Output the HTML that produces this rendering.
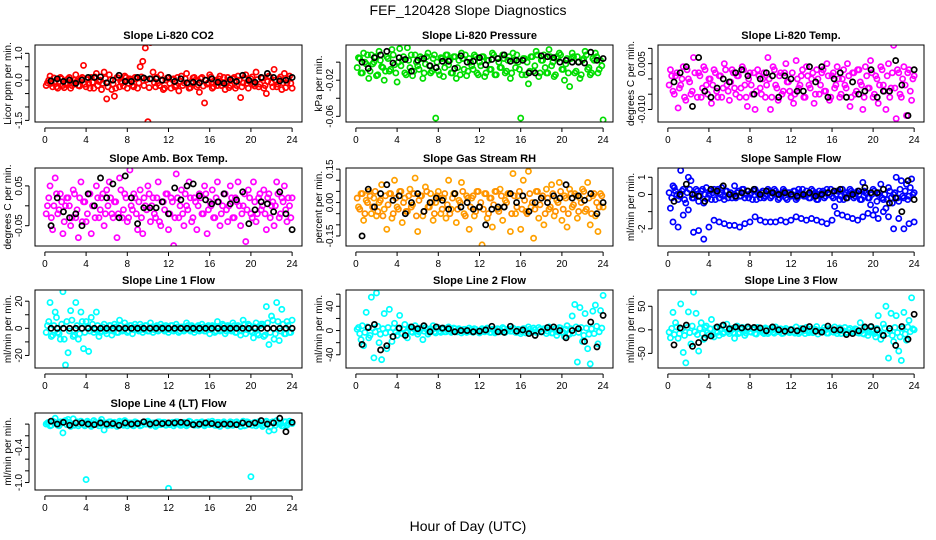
<!DOCTYPE html>
<html><head><meta charset="utf-8"><style>
html,body{margin:0;padding:0;background:#fff}
svg{display:block;font-family:"Liberation Sans",Arial,sans-serif}
</style></head><body>
<svg id="chart" width="936" height="540" viewBox="0 0 936 540" xmlns="http://www.w3.org/2000/svg">
<rect x="0" y="0" width="936" height="540" fill="#fff"/>
<text x="468" y="15" text-anchor="middle" font-size="14">FEF_120428  Slope Diagnostics</text>
<text x="468" y="531" text-anchor="middle" font-size="14">Hour of Day (UTC)</text>
</svg>
<script>
// shared x ticks
const xTicks = [0,4,8,12,16,20,24];
// colored points: every 0.25 h; core points offset by 0.125 h; black points: every 0.6 h
const co2Vals = [-0.1,0.15,-0.25,-0.05,-0.3,0.1,-0.2,-0.15,0.05,-0.3,-0.1,0.2,
-0.2,0.05,0.55,-0.25,-0.1,0.1,-0.3,0.25,-0.05,-0.35,0.3,-0.7,
0.2,-0.35,-0.6,0.1,-0.25,-0.1,0.15,-0.3,0.05,-0.2,0.1,-0.3,
0.5,0.7,1.2,-1.55,1.4,0.3,-0.25,-0.1,0.2,-0.35,0.0,0.1,
-0.3,0.05,-0.2,-0.4,0.15,-0.1,0.25,-0.3,-0.05,0.1,-0.25,-0.45,
0.1,-0.85,-0.15,0.2,-0.3,0.0,-0.2,0.15,-0.1,-0.35,0.1,-0.2,
0.05,-0.3,0.15,-0.65,-0.1,0.2,-0.3,0.05,-0.15,0.3,-0.25,0.1,
-0.3,-0.5,0.15,-0.1,0.4,-0.25,0.05,-0.35,0.25,-0.1,0.15,-0.3];
const co2Core = [-0.2,0.0,-0.12,0.08,-0.25,-0.05,0.05,-0.28,-0.1,0.1,-0.2,0.0,
-0.05,-0.22,0.1,-0.15,0.02,-0.3,-0.08,0.12,-0.2,0.0,-0.12,0.06,
-0.25,0.02,-0.15,-0.3,0.08,-0.05,-0.22,0.1,-0.12,0.0,-0.25,0.05,
-0.1,0.12,-0.2,0.02,-0.28,0.05,-0.1,0.1,-0.2,-0.02,-0.3,0.08,
-0.12,0.02,-0.25,0.1,-0.05,-0.2,0.05,-0.15,-0.28,0.08,0.0,-0.18,
0.06,-0.22,0.0,-0.1,0.12,-0.25,-0.05,0.05,-0.2,0.1,-0.12,-0.28,
-0.02,0.1,-0.2,0.0,-0.25,0.08,-0.12,-0.05,0.12,-0.22,0.02,-0.15,
0.08,-0.2,-0.05,0.1,-0.25,0.0,-0.15,0.12,-0.1,-0.28,0.05,-0.12];
const co2Black = [-0.03,0.05,-0.05,0.0,-0.12,0.0,0.1,0.1,0.12,-0.1,0.0,0.18,-0.05,-0.05,0.1,0.08,0.05,0.05,0.0,0.1,-0.05,0.05,-0.1,-0.08,-0.1,0.0,0.05,-0.08,-0.12,0.02,-0.05,0.18,0.0,-0.08,0.1,0.25,0.1,-0.03,0.0,0.1];
const presVals = [0.005,-0.012,0.01,-0.002,-0.018,0.008,0.0,-0.015,0.012,-0.005,-0.02,0.006,
-0.01,0.014,-0.003,-0.022,0.015,0.002,-0.012,0.016,-0.006,-0.015,0.008,-0.004,
0.006,-0.018,-0.002,0.01,-0.012,0.004,-0.062,-0.01,0.005,-0.016,0.008,-0.003,
-0.012,0.006,-0.018,0.002,0.01,-0.008,-0.015,0.004,-0.004,0.008,-0.012,0.0,
0.006,-0.016,0.002,-0.008,0.01,-0.014,0.004,-0.006,0.008,-0.012,0.002,-0.018,
0.01,-0.006,0.0,-0.062,0.004,-0.014,-0.024,0.006,-0.01,0.012,-0.016,0.002,
0.008,-0.012,0.014,-0.004,-0.016,0.006,0.01,-0.008,-0.02,0.004,-0.027,0.01,
-0.012,0.006,-0.018,0.002,0.012,-0.008,-0.014,0.004,0.01,-0.012,0.002,-0.064];
const presCore = [-0.006,0.004,-0.012,0.0,0.008,-0.01,-0.002,0.006,-0.014,0.002,-0.006,-0.01,
0.004,-0.008,0.008,-0.012,0.0,-0.004,0.006,-0.014,0.002,0.008,-0.01,0.0,
-0.008,0.004,-0.012,0.006,-0.004,-0.01,0.008,0.0,-0.014,0.004,-0.006,0.008,
0.002,-0.012,0.006,-0.006,-0.014,0.004,0.008,-0.01,0.0,-0.008,0.006,-0.014,
-0.004,0.006,-0.012,0.002,-0.008,0.008,-0.014,0.0,-0.006,0.004,-0.01,0.006,
-0.012,0.002,0.008,-0.008,-0.014,0.004,0.0,-0.01,0.006,-0.004,0.008,-0.012,
0.002,-0.006,-0.012,0.006,0.0,-0.014,0.004,0.008,-0.008,-0.002,-0.012,0.004,
0.006,-0.01,0.0,-0.014,0.004,0.008,-0.006,-0.012,0.002,0.006,-0.008,-0.004];
const presBlack = [0.0,-0.007,0.005,0.008,0.012,-0.001,0.005,0.003,-0.01,0.002,0.004,-0.004,-0.006,0.001,0.001,-0.007,0.007,0.0,0.001,0.005,-0.003,0.003,0.004,0.008,0.001,0.002,0.002,-0.012,-0.012,0.007,0.006,0.005,0.0,0.002,0.0,0.0,-0.001,0.011,0.002,0.004];
const tempVals = [0.003,-0.004,0.001,-0.0095,-0.002,0.004,-0.007,0.0,-0.005,0.007,-0.0155,0.002,
-0.006,0.004,-0.002,0.0,-0.008,0.003,-0.004,0.001,-0.006,0.005,-0.002,-0.007,
0.003,-0.003,0.001,-0.006,0.004,-0.002,-0.009,0.002,-0.005,-0.01,0.003,-0.003,
0.0,-0.006,0.007,-0.01,0.004,-0.002,-0.007,0.002,-0.004,0.005,-0.001,-0.006,
-0.008,0.006,-0.003,0.001,-0.006,0.004,-0.002,0.0,-0.008,0.003,-0.005,0.002,
-0.004,0.005,-0.007,0.001,-0.003,0.004,-0.006,0.0,-0.002,0.005,-0.009,0.002,
-0.005,0.003,-0.001,-0.01,0.004,-0.003,0.006,-0.006,0.001,-0.008,0.004,-0.002,
-0.01,0.005,-0.003,0.011,-0.013,0.002,-0.006,0.004,-0.012,0.003,-0.007,0.001];
const tempCore = [-0.002,0.001,-0.005,0.002,-0.003,0.0,-0.006,0.003,-0.001,-0.004,0.002,-0.006,
0.001,-0.003,0.003,-0.005,0.0,-0.002,0.002,-0.006,0.001,-0.003,0.003,-0.004,
-0.001,0.002,-0.005,0.001,-0.003,0.003,-0.006,0.0,-0.002,0.002,-0.004,0.001,
-0.005,0.002,-0.002,0.0,-0.006,0.003,-0.003,0.001,-0.005,0.002,-0.001,-0.004,
0.002,-0.005,0.0,-0.002,0.003,-0.006,0.001,-0.003,0.002,-0.005,0.0,-0.002,
0.003,-0.004,0.001,-0.006,0.002,-0.002,0.0,-0.005,0.003,-0.003,0.001,-0.006,
0.002,-0.004,0.003,-0.002,-0.006,0.001,-0.003,0.002,-0.005,0.0,-0.002,0.003,
-0.004,0.001,-0.006,0.002,-0.003,0.003,-0.005,0.0,-0.002,0.002,-0.004,0.0];
const tempBlack = [-0.001,0.002,0.004,-0.009,0.007,-0.004,-0.006,-0.003,0.0,-0.001,0.002,0.003,0.001,-0.005,0.0,0.002,0.001,-0.006,0.001,0.0,-0.004,-0.004,0.004,-0.001,0.004,-0.006,0.0,0.002,-0.006,-0.001,-0.005,-0.004,0.003,-0.006,-0.004,-0.004,0.006,-0.002,-0.012,0.003];
const ambVals = [0.0,0.05,-0.06,0.07,-0.02,0.03,-0.07,0.0,0.02,-0.05,0.04,-0.03,
-0.08,0.06,0.01,-0.04,0.03,-0.07,0.0,0.05,-0.03,0.02,-0.05,0.04,
0.06,-0.02,0.01,-0.08,0.07,-0.03,0.03,-0.04,0.09,-0.01,0.02,-0.06,
0.04,-0.07,0.0,0.05,-0.04,0.02,-0.03,0.06,-0.05,0.01,0.03,-0.06,
0.02,-0.1,0.08,-0.03,0.04,-0.05,0.0,0.06,-0.04,0.02,-0.06,0.03,
-0.02,0.05,-0.07,0.01,0.04,-0.03,0.06,-0.05,0.0,0.03,-0.04,0.05,
-0.03,0.02,0.06,-0.05,0.0,-0.09,0.04,-0.02,0.06,-0.04,0.02,-0.01,
0.04,-0.06,0.03,0.0,-0.05,0.06,-0.03,0.02,0.05,-0.04,0.0,0.02];
const ambCore = [-0.02,0.02,-0.03,0.0,0.03,-0.01,0.01,-0.04,0.02,0.0,-0.03,0.03,
-0.01,0.02,-0.04,0.01,-0.02,0.03,0.0,-0.03,0.02,-0.01,0.03,-0.02,
0.0,0.02,-0.03,0.01,-0.02,0.04,-0.01,0.02,-0.03,0.0,0.03,-0.02,
0.01,-0.03,0.02,-0.01,0.03,0.0,-0.02,0.02,-0.04,0.01,-0.01,0.03,
-0.02,0.01,-0.03,0.02,0.0,-0.02,0.03,-0.01,0.02,-0.03,0.01,0.0,
0.02,-0.02,0.03,-0.01,0.0,-0.03,0.02,0.01,-0.02,0.03,-0.01,0.0,
0.02,-0.03,0.01,0.0,-0.02,0.03,-0.01,0.02,-0.03,0.01,-0.02,0.03,
0.0,-0.02,0.02,-0.03,0.01,0.0,0.03,-0.02,0.01,-0.01,0.02,-0.03];
const ambBlack = [-0.05,0.02,-0.015,-0.03,-0.02,-0.05,0.03,0.0,0.07,0.02,0.055,-0.03,0.075,0.02,-0.045,-0.005,-0.005,-0.005,0.01,-0.02,0.045,0.015,0.05,0.055,0.025,0.015,0.005,0.01,0.03,0.005,0.015,0.035,-0.045,-0.01,0.01,0.005,-0.015,0.035,-0.02,-0.06];
const rhVals = [-0.02,0.04,-0.08,0.01,0.05,-0.05,0.02,-0.06,0.0,0.08,-0.03,-0.12,
0.04,-0.07,0.1,-0.02,0.05,-0.09,0.02,-0.04,0.06,-0.01,0.11,-0.13,
0.03,-0.06,0.07,-0.02,0.04,-0.08,0.0,0.05,-0.05,0.02,-0.07,0.1,
-0.03,0.04,-0.09,0.01,0.09,-0.05,0.03,-0.12,0.02,-0.06,0.05,-0.02,
-0.19,0.04,-0.07,0.02,-0.11,0.05,-0.03,0.06,-0.08,0.01,0.04,-0.13,
0.13,-0.05,0.03,-0.12,0.1,-0.04,0.14,-0.02,-0.16,0.05,-0.07,0.02,
-0.1,0.06,-0.03,0.08,-0.06,0.01,0.09,-0.08,0.03,-0.11,0.06,-0.02,
0.04,-0.07,0.02,0.06,-0.04,0.09,-0.1,0.03,-0.06,-0.13,0.04,-0.02];
const rhCore = [0.02,-0.03,0.04,-0.05,0.0,0.03,-0.02,0.05,-0.04,0.01,-0.06,0.03,
-0.01,0.04,-0.05,0.02,-0.03,0.05,0.0,-0.04,0.03,-0.02,0.04,-0.06,
0.01,0.03,-0.04,0.05,-0.02,0.0,-0.05,0.03,0.02,-0.03,0.04,-0.01,
-0.05,0.02,0.04,-0.03,0.0,0.05,-0.06,0.02,-0.02,0.03,-0.04,0.05,
0.0,-0.03,0.04,-0.05,0.02,-0.01,0.05,-0.04,0.03,-0.02,0.0,0.04,
-0.05,0.03,-0.02,0.05,-0.03,0.01,-0.05,0.04,0.0,-0.03,0.05,-0.01,
0.03,-0.05,0.02,-0.02,0.04,-0.04,0.0,0.05,-0.03,0.02,-0.05,0.04,
-0.01,0.03,-0.04,0.0,0.05,-0.03,0.02,-0.05,0.04,0.0,-0.02,0.03];
const rhBlack = [-0.15,0.06,-0.02,0.04,0.08,0.01,0.03,-0.05,0.0,0.04,-0.04,0.0,0.02,0.01,-0.03,0.04,-0.02,0.0,-0.03,-0.02,-0.1,-0.03,-0.02,-0.02,0.04,0.0,0.03,-0.04,0.0,0.02,0.0,0.03,0.02,0.08,0.02,0.03,0.01,0.04,-0.05,0.0];
const flowUpper = [-0.8,0.5,0.2,-0.3,1.4,0.3,-0.5,1.0,0.8,-0.2,0.3,-0.4,
0.2,-0.5,0.4,0.0,-0.3,0.3,0.1,-0.2,0.4,-0.3,0.2,0.0,
-0.2,0.5,0.1,-0.1,0.3,-0.2,0.2,0.0,-0.3,0.3,0.1,-0.2,
0.2,-0.1,0.3,-0.2,0.1,0.2,-0.3,0.0,0.3,-0.2,0.1,-0.1,
0.2,-0.3,0.3,0.0,-0.1,0.2,-0.2,0.3,0.0,-0.3,0.2,0.1,
-0.2,0.3,0.0,-0.1,-0.7,0.2,-0.3,0.3,0.0,-0.2,0.3,0.1,
-0.1,0.2,-0.3,0.7,0.1,-0.2,-0.6,0.3,-0.9,0.0,0.6,-0.3,
-0.8,0.4,-0.2,0.0,1.0,-0.4,0.8,-0.2,0.6,-0.1,0.9,0.1];
const flowCore = [0.1,-0.2,0.4,0.0,-0.1,0.2,-0.3,0.1,0.3,-0.2,0.0,0.2,
-0.1,0.3,0.0,-0.2,0.2,0.1,-0.3,0.3,0.0,-0.1,0.2,-0.2,
0.1,0.0,-0.2,0.2,-0.1,0.3,0.0,-0.2,0.1,0.2,-0.3,0.0,
0.1,-0.2,0.0,0.2,-0.1,0.3,0.0,-0.2,0.1,0.2,-0.3,0.1,
0.0,0.2,-0.2,0.1,0.3,-0.1,0.0,-0.2,0.2,0.1,-0.3,0.0,
0.2,-0.1,0.1,0.3,-0.2,0.0,0.2,-0.1,-0.3,0.1,0.0,0.2,
-0.2,0.1,0.0,-0.3,0.2,0.1,-0.2,0.0,0.2,-0.4,0.1,-0.2,
0.0,-0.3,0.2,-0.5,0.1,-0.2,0.3,-0.1,0.2,-0.3,0.4,0.0];
// lower band, every 0.5 h
const flowLower = [-1.6,-1.9,-1.2,-0.9,-2.2,-2.1,-2.6,-1.9,-1.5,-1.6,-1.7,-1.8,-1.8,-1.9,-1.7,-1.6,-1.3,-1.5,-1.6,-1.6,-1.6,-1.5,-1.6,-1.5,-1.3,-1.4,-1.5,-1.4,-1.5,-1.6,-1.7,-1.5,-1.1,-1.2,-1.3,-1.4,-1.5,-1.3,-1.1,-1.2,-1.4,-1.0,-1.3,-2.0,-1.4,-2.0,-1.7,-1.6];
const flowBlack = [-0.4,0.0,0.6,0.0,-0.1,-0.4,0.3,0.2,0.5,0.0,-0.1,0.1,0.2,0.3,0.0,0.2,0.1,0.0,0.1,0.0,-0.1,0.0,0.1,-0.1,0.0,0.1,0.2,0.3,-0.2,0.0,0.2,0.4,0.1,0.1,0.3,-0.5,-0.2,-1.0,0.8,-0.3];
const l1Vals = [2,19,-5,12,-3,-8,27,-27,-18,13,-6,19,
-8,12,-15,5,-17,8,-3,12,-6,-2,3,-4,
2,-5,3,-3,6,-2,4,-3,2,-4,3,-1,
3,-3,2,-2,4,-3,1,-2,3,-1,2,-3,
2,-2,3,-3,1,-2,4,-1,2,-3,1,-2,
3,-2,1,-4,2,-3,5,-2,3,-4,2,-1,
4,-3,2,-5,6,-4,3,-2,-7,4,-5,3,
-6,16,-12,9,-8,19,-9,14,-4,5,-3,6];
const l1Core = [-3,5,-6,2,8,-4,3,-8,5,-2,6,-5,
2,-4,5,-3,1,-2,3,-1,2,-3,1,-2,
-1,2,-2,1,-3,2,-1,1,-2,2,-1,1,
-2,1,-1,2,-2,1,-1,2,-1,1,-2,1,
-1,2,-1,1,-2,1,-1,2,-2,1,-1,2,
-1,1,-2,2,-1,1,-2,1,-1,2,-2,1,
-2,2,-3,1,-2,3,-1,2,-3,1,-4,2,
3,-5,4,-3,6,-4,5,-2,3,-4,2,-3];
const l1Black = [0,0,0,0,0,0,0,0,0,0,0,0,0,0,0,0,0,0,0,0,0,0,0,0,0,0,0,0,0,0,0,0,0,0,0,0,0,0,0,0];
const l2Vals = [5,-15,-25,30,-12,55,-45,62,-20,-48,28,-30,
35,-18,12,-8,25,-5,10,-12,6,-3,8,-6,
4,-15,5,-6,3,8,-4,5,-3,4,-2,6,
-3,4,-2,3,-4,2,-3,4,-2,3,-1,-4,
3,-2,4,-3,2,-4,3,-2,5,-3,2,-1,
4,-3,2,-5,3,-4,6,-2,4,-3,5,-2,
3,-5,6,-4,2,-8,5,-3,-10,8,-6,24,
43,-52,38,-18,28,-30,-55,32,42,-22,33,58];
const l2Core = [2,-5,8,-3,6,-8,4,-2,7,-6,3,-4,
5,-3,4,-2,3,-4,2,-3,4,-2,3,-1,
-2,3,-1,2,-3,1,-2,3,-1,2,-2,1,
2,-1,3,-2,1,-1,2,-2,1,-3,2,-1,
-2,1,-1,2,-3,1,-2,2,-1,3,-1,2,
-1,2,-3,1,-2,3,-1,2,-2,1,-3,2,
-2,3,-1,2,-4,3,-2,4,-3,2,-5,3,
-4,6,-3,5,-8,4,-6,3,-5,7,-2,4];
const l2Black = [-23,5,10,-32,-25,-10,4,-8,6,3,8,-2,6,4,3,-2,0,0,-2,-1,1,7,-2,-3,7,-1,1,-5,-8,-2,5,6,0,-12,0,3,-18,14,-27,25];
const l3Vals = [-17,37,15,-18,55,-48,-70,38,-30,80,35,-45,
15,-20,8,-10,22,-15,5,-12,8,-5,12,-8,
3,-18,8,-6,5,-12,6,-4,3,-8,5,-2,
-6,4,-8,3,-5,6,-4,2,-7,3,-5,1,
-4,6,-8,3,-2,5,-6,2,-4,7,-3,-1,
5,-7,3,-4,6,-8,4,-2,5,-6,3,-4,
2,-6,15,-8,4,-12,6,-3,-15,30,-20,12,
50,-60,35,-25,30,-45,-65,37,-22,20,68,0];
const l3Core = [-5,3,-10,6,-8,2,-12,5,-6,8,-4,-10,
3,-8,5,-6,2,-10,4,-5,1,-8,3,-4,
-2,-6,2,-8,1,-4,-7,2,-5,0,-9,1,
-3,-8,2,-5,-1,-7,1,-4,-8,0,-3,-6,
1,-7,-2,-5,2,-8,-1,-4,-6,1,-9,-2,
-4,0,-7,2,-5,-3,1,-8,-2,-6,0,-5,
-3,1,-7,-2,-9,2,-5,-1,-8,3,-6,-10,
4,-8,-2,-12,5,-6,-15,3,-9,6,-4,2];
const l3Black = [-32,4,10,-35,-27,-17,-13,6,10,2,6,4,6,5,4,-2,6,0,-3,0,-2,2,7,-3,-5,8,0,0,-10,-8,-2,6,7,0,-12,3,-33,7,-20,33];
const l4Vals = [0.02,-0.03,0.05,0.1,-0.02,0.04,-0.15,0.06,0.08,-0.04,0.09,0.02,
-0.03,0.05,-0.01,-0.95,0.03,-0.04,0.06,0.0,-0.03,0.08,-0.1,0.02,
0.04,-0.02,0.03,-0.04,0.05,0.0,0.06,-0.03,0.02,-0.02,0.04,0.0,
-0.03,0.03,0.0,0.05,-0.02,0.02,-0.04,0.04,-0.01,0.03,-0.02,-1.1,
0.02,-0.03,0.04,0.0,-0.02,0.03,-0.03,0.05,0.0,-0.02,0.03,-0.01,
0.04,-0.03,0.02,-0.01,0.05,-0.02,0.03,-0.04,0.02,0.0,-0.03,0.04,
-0.02,0.03,0.0,-0.04,0.05,-0.02,0.03,-0.9,0.02,-0.03,0.04,0.0,
-0.02,0.05,-0.12,0.03,-0.1,0.06,0.0,-0.03,0.04,-0.02,0.05,0.01];
const l4Core = [0.0,0.03,-0.02,0.04,0.01,-0.03,0.02,0.05,-0.01,0.03,0.0,-0.02,
0.04,0.0,0.02,-0.03,0.05,0.01,-0.02,0.03,0.0,0.04,-0.01,0.02,
-0.02,0.04,0.0,0.02,-0.01,0.03,-0.02,0.04,0.0,0.02,-0.03,0.03,
0.01,-0.02,0.04,0.0,0.03,-0.01,0.02,-0.02,0.04,0.0,0.03,0.01,
-0.01,0.03,0.0,0.04,-0.02,0.02,0.01,-0.01,0.04,0.0,0.02,-0.02,
0.03,0.0,-0.01,0.04,0.01,0.02,-0.02,0.03,0.0,0.04,0.01,-0.02,
0.03,-0.01,0.04,0.0,0.02,-0.03,0.04,0.01,-0.02,0.03,0.0,0.02,
-0.04,0.03,0.0,-0.05,0.04,-0.02,0.03,0.0,-0.03,0.04,0.01,0.02];
const l4Black = [0.05,0.0,0.03,-0.02,0.02,0.02,0.0,-0.01,0.02,0.0,0.01,-0.02,0.02,0.0,0.01,0.04,0.0,0.02,0.01,0.02,0.02,0.03,0.02,-0.01,0.0,0.02,0.01,-0.01,0.0,0.0,-0.01,0.02,0.0,0.02,0.06,0.0,0.02,0.1,-0.13,0.03];

const svg = document.getElementById('chart');
const NS = 'http://www.w3.org/2000/svg';
const colX = [[35,302],[346,613],[658,924]];
const rowY = [[45,122],[168,246],[290,368],[413,490]];
function mk(tag, attrs, parent){
  const e = document.createElementNS(NS, tag);
  for (const k in attrs) e.setAttribute(k, attrs[k]);
  (parent||svg).appendChild(e);
  return e;
}
function panel(key, col, row, title, ylab, ymin, ymax, yTickVals, yTickLabels, series){
  const [x0,x1] = colX[col], [y0,y1] = rowY[row];
  const g = mk('g', {});
  
  
  const sx = h => x0 + (h + 0.96) / 25.92 * (x1 - x0);
  const sy = v => y1 - (v - ymin) / (ymax - ymin) * (y1 - y0);
  const clip = mk('clipPath', {id: 'c-' + key}, g);
  mk('rect', {x: x0, y: y0, width: x1 - x0, height: y1 - y0}, clip);
  const pts = mk('g', {'clip-path': 'url(#c-' + key + ')'}, g);
  
  
  series.forEach(s => {
    s.vals.forEach((v, i) => {
      const c = mk('circle', {cx: sx(s.hour(i)), cy: sy(v), r: 2.6, fill: 'none', stroke: s.color, 'stroke-width': 1.7}, pts);
      
      
    });
  });
  const box = mk('rect', {x: x0, y: y0, width: x1 - x0, height: y1 - y0, fill: 'none', stroke: '#000', 'stroke-width': 1}, g);
  
  
  const t = mk('text', {x: (x0 + x1) / 2, y: y0 - 6, 'text-anchor': 'middle', 'font-size': 11, 'font-weight': 'bold'}, g);
  t.textContent = title;
  
  
  const ax = mk('g', {}, g);
  
  
  mk('line', {x1: sx(0), x2: sx(24), y1: y1 + 6, y2: y1 + 6, stroke: '#000'}, ax);
  xTicks.forEach(h => {
    mk('line', {x1: sx(h), x2: sx(h), y1: y1 + 6, y2: y1 + 10, stroke: '#000'}, ax);
    const l = mk('text', {x: sx(h), y: y1 + 21, 'text-anchor': 'middle', 'font-size': 10}, ax);
    l.textContent = h;
  });
  const ay = mk('g', {}, g);
  
  
  const ya = x0 - 6;
  mk('line', {x1: ya, x2: ya, y1: sy(yTickVals[0]), y2: sy(yTickVals[yTickVals.length - 1]), stroke: '#000'}, ay);
  yTickVals.forEach((v, i) => {
    mk('line', {x1: ya - 4, x2: ya, y1: sy(v), y2: sy(v), stroke: '#000'}, ay);
    if (yTickLabels[i] !== '') {
      const l = mk('text', {x: 0, y: 0, 'text-anchor': 'middle', 'font-size': 10, transform: 'translate(' + (ya - 7) + ',' + sy(v) + ') rotate(-90)'}, ay);
      l.textContent = yTickLabels[i];
    }
  });
  const yl = mk('text', {x: 0, y: 0, 'text-anchor': 'middle', 'font-size': 10, transform: 'translate(' + (x0 - 24) + ',' + ((y0 + y1) / 2) + ') rotate(-90)'}, g);
  yl.textContent = ylab;
  
  
}
const qh = i => (i + 1) * 0.25;
const ch = i => (i + 1) * 0.25 - 0.125;
const hh = i => (i + 1) * 0.5;
const bh = i => (i + 1) * 0.6;
panel('co2', 0, 0, 'Slope Li-820 CO2', 'Licor ppm per min.', -1.56, 1.31,
  [-1.5,-1,-0.5,0,0.5,1], ['-1.5','','','0.0','','1.0'],
  [{vals: co2Vals, hour: qh, color: '#ff0000'}, {vals: co2Core, hour: ch, color: '#ff0000'}, {vals: co2Black, hour: bh, color: '#000'}]);
panel('pressure', 1, 0, 'Slope Li-820 Pressure', 'kPa per min.', -0.0663, 0.019,
  [-0.06,-0.04,-0.02,0], ['-0.06','','-0.02',''],
  [{vals: presVals, hour: qh, color: '#00dd00'}, {vals: presCore, hour: ch, color: '#00dd00'}, {vals: presBlack, hour: bh, color: '#000'}]);
panel('li820-temp', 2, 0, 'Slope Li-820 Temp.', 'degrees C per min.', -0.0141, 0.0111,
  [-0.01,-0.005,0,0.005,0.01], ['-0.010','','','0.005',''],
  [{vals: tempVals, hour: qh, color: '#ff00ff'}, {vals: tempCore, hour: ch, color: '#ff00ff'}, {vals: tempBlack, hour: bh, color: '#000'}]);
panel('amb-box-temp', 0, 1, 'Slope Amb. Box Temp.', 'degrees C per min.', -0.101, 0.095,
  [-0.05,0,0.05], ['-0.05','','0.05'],
  [{vals: ambVals, hour: qh, color: '#ff00ff'}, {vals: ambCore, hour: ch, color: '#ff00ff'}, {vals: ambBlack, hour: bh, color: '#000'}]);
panel('gas-stream-rh', 1, 1, 'Slope Gas Stream RH', 'percent per min.', -0.195, 0.155,
  [-0.15,-0.1,-0.05,0,0.05,0.1,0.15], ['-0.15','','','0.00','','','0.15'],
  [{vals: rhVals, hour: qh, color: '#ffa000'}, {vals: rhCore, hour: ch, color: '#ff9000'}, {vals: rhBlack, hour: bh, color: '#000'}]);
panel('sample-flow', 2, 1, 'Slope Sample Flow', 'ml/min per min.', -3.0, 1.54,
  [-2,-1,0,1], ['-2','','0','1'],
  [{vals: flowUpper, hour: qh, color: '#0000ff'}, {vals: flowCore, hour: ch, color: '#0000ff'}, {vals: flowLower, hour: hh, color: '#0000ff'}, {vals: flowBlack, hour: bh, color: '#000'}]);
panel('line1-flow', 0, 2, 'Slope Line 1 Flow', 'ml/min per min.', -29.25, 28.25,
  [-20,-10,0,10,20], ['-20','','0','','20'],
  [{vals: l1Vals, hour: qh, color: '#00ffff'}, {vals: l1Core, hour: ch, color: '#00ffff'}, {vals: l1Black, hour: bh, color: '#000'}]);
panel('line2-flow', 1, 2, 'Slope Line 2 Flow', 'ml/min per min.', -61.8, 66.9,
  [-40,-20,0,20,40,60], ['-40','','0','','40',''],
  [{vals: l2Vals, hour: qh, color: '#00ffff'}, {vals: l2Core, hour: ch, color: '#00ffff'}, {vals: l2Black, hour: bh, color: '#000'}]);
panel('line3-flow', 2, 2, 'Slope Line 3 Flow', 'ml/min per min.', -81, 84.5,
  [-50,0,50], ['-50','0','50'],
  [{vals: l3Vals, hour: qh, color: '#00ffff'}, {vals: l3Core, hour: ch, color: '#00ffff'}, {vals: l3Black, hour: bh, color: '#000'}]);
panel('line4-lt-flow', 0, 3, 'Slope Line 4 (LT) Flow', 'ml/min per min.', -1.128, 0.19,
  [-1.0,-0.8,-0.6,-0.4,-0.2,0], ['-1.0','','','-0.4','',''],
  [{vals: l4Vals, hour: qh, color: '#00ffff'}, {vals: l4Core, hour: ch, color: '#00ffff'}, {vals: l4Black, hour: bh, color: '#000'}]);
</script>
</body></html>
